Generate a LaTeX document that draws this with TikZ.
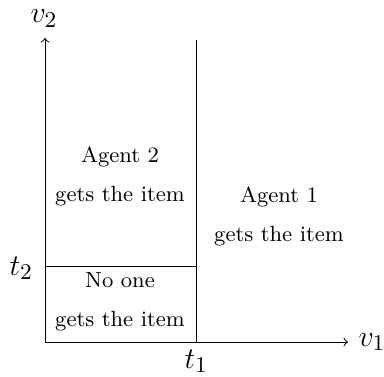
\documentclass[tikz,border=0pt]{standalone}
\begin{document}
\begin{tikzpicture}[x=0.4pt,y=-0.4pt,
  axis/.style={->,line width=0.4pt},
  region/.style={line width=0.4pt},
  lbl/.style={align=center,font=\fontsize{8.8}{15.6}\selectfont,inner sep=0pt},
  mlbl/.style={inner sep=0pt,anchor=base west,font=\fontsize{12.8}{14}\selectfont}]
\useasboundingbox (0,0) rectangle (384,377);
\coordinate (O) at (45,342);
\coordinate (X) at (348,342);
\coordinate (Y) at (45,38);
\coordinate (T1) at (196,342);
\coordinate (T1top) at (196,40);
\coordinate (T2) at (45,266.5);
\draw[axis] (O) -- (X);
\draw[axis] (O) -- (Y);
\draw[region] (T1) -- (T1top);
\draw[region] (T2) -- (T1 |- T2);
\node[mlbl] (v1) at (358,346) {$v_1$};
\node[mlbl] (v2) at (30,23) {$v_2$};
\node[mlbl] (t1) at (184,368) {$t_1$};
\node[mlbl] (t2) at (9,275) {$t_2$};
\node[lbl] (a2) at (120,176) {Agent 2\\gets the item};
\node[lbl] (a1) at (279,216) {Agent 1\\gets the item};
\node[lbl] (no) at (120,302) {No one\\gets the item};
\end{tikzpicture}
\end{document}
